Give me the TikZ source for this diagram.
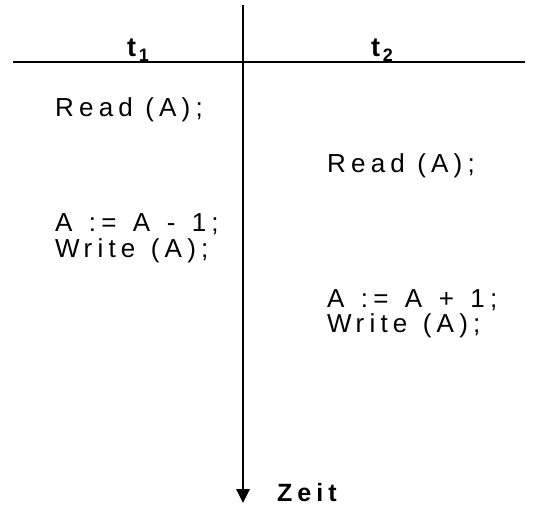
\documentclass[tikz,border=0pt]{standalone}
\usepackage{fontspec}
\setmainfont{Liberation Sans}
\newfontfamily\spacedfont[LetterSpace=20]{Liberation Sans}
\usepackage{tikz}
\usetikzlibrary{arrows.meta,positioning}

\newcommand{\sub}[1]{\raisebox{-5pt}{\fontsize{18}{18}\selectfont #1}}
\newcommand{\wgap}{\kern4pt\ }

\begin{document}
\begin{tikzpicture}[
  x=1pt, y=-1pt,
  every node/.style={inner sep=0pt},
  stmt/.style={anchor=base west, font=\spacedfont\fontsize{26}{26}\selectfont},
  head/.style={anchor=base, font=\bfseries\fontsize{27}{27}\selectfont},
  axis/.style={line width=2.8pt},
  timearr/.style={line width=2.8pt, -{Triangle[length=14pt, width=13pt]}}
]
\useasboundingbox (0,0) rectangle (538,509);

\coordinate (top) at (243,5);
\coordinate (bot) at (243,503);
\coordinate (left) at (13,62);
\coordinate (right) at (525,62);

\draw[axis] (left) -- (right);
\draw[timearr] (top) -- (bot);

\node[head] (t1) at (138,56) {t\kern3pt\sub{1}};
\node[head] (t2) at (382,56) {t\kern3pt\sub{2}};

% t1 column
\node[stmt] (r1) at (55,116) {Read (A);};
\node[stmt] (a1) at (55,231) {A\wgap:=\wgap A\wgap-\wgap 1;};
\node[stmt] (w1) at (55,257) {W\kern4pt rite\kern3pt\ (A);};

% t2 column
\node[stmt] (r2) at (327,172) {Read (A);};
\node[stmt] (a2) at (327,307) {A\wgap:=\wgap A\wgap+\wgap 1;};
\node[stmt] (w2) at (327,332) {W\kern4pt rite\kern3pt\ (A);};

\node[anchor=base west, font=\spacedfont\bfseries\fontsize{25}{25}\selectfont] (zeit) at (277,501) {Zeit};
\end{tikzpicture}
\end{document}
